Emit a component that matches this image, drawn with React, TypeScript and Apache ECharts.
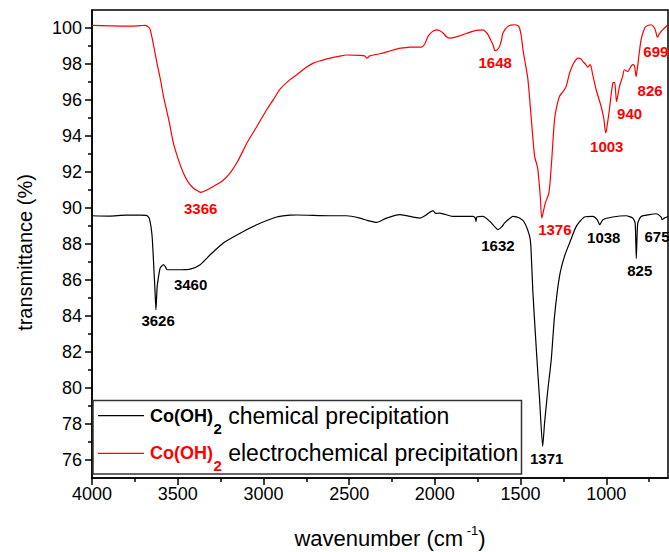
import React, { useEffect, useRef } from "react";
import * as echarts from "echarts";

// ---------- data ----------
const chemWavenumber = [
  4000, 3900, 3800, 3720, 3680, 3665, 3650, 3641, 3632, 3627, 3620, 3610, 3602, 3583, 3570, 3563,
  3554, 3486, 3427, 3369, 3311, 3234, 3136, 3039, 2923, 2845, 2806, 2612, 2515, 2437, 2390, 2340,
  2282, 2204, 2088, 2049, 2011, 1995, 1971, 1894, 1778, 1765, 1760, 1755, 1719, 1680, 1650, 1632,
  1610, 1593, 1560, 1544, 1506, 1476, 1447, 1440, 1428, 1408, 1389, 1371, 1360, 1341, 1321, 1302,
  1273, 1244, 1214, 1175, 1127, 1079, 1053, 1038, 1020, 962, 884, 846, 832, 828, 825, 821, 816,
  797, 748, 709, 680, 675, 660, 640,
];
const chemTransmittance = [
  89.57, 89.55, 89.6, 89.6, 89.58, 89.4, 88.5, 87.0, 85.3, 84.35, 85.6, 86.3, 86.67, 86.85, 86.7, 86.57,
  86.57, 86.57, 86.6, 86.85, 87.4, 88.06, 88.6, 89.07, 89.5, 89.6, 89.61, 89.57, 89.57, 89.44, 89.3, 89.2,
  89.44, 89.63, 89.44, 89.63, 89.85, 89.7, 89.72, 89.53, 89.53, 89.45, 89.25, 89.5, 89.53, 89.26, 88.95, 88.8,
  88.95, 89.17, 89.45, 89.53, 89.44, 89.17, 88.42, 87.9, 85.3, 82.13, 79.35, 76.76, 78.06, 79.9, 81.57, 83.98,
  86.2, 87.31, 88.06, 88.98, 89.5, 89.53, 89.35, 89.07, 89.35, 89.5, 89.57, 89.44, 89.17, 88.2, 87.2, 88.3, 89.17,
  89.53, 89.63, 89.68, 89.5, 89.35, 89.45, 89.53,
];

const electroWavenumber = [
  4000, 3900, 3800, 3720, 3690, 3670, 3660, 3640, 3621, 3600, 3583, 3550, 3525, 3500, 3467, 3440,
  3408, 3380, 3366, 3330, 3292, 3240, 3195, 3150, 3097, 3040, 2981, 2940, 2903, 2845, 2806, 2760,
  2709, 2660, 2612, 2560, 2515, 2437, 2410, 2395, 2380, 2321, 2270, 2224, 2180, 2146, 2078, 2060,
  2040, 2015, 1991, 1970, 1952, 1930, 1913, 1870, 1836, 1797, 1758, 1719, 1700, 1690, 1675, 1661,
  1648, 1635, 1622, 1610, 1603, 1574, 1535, 1515, 1506, 1495, 1486, 1470, 1457, 1437, 1418, 1405,
  1399, 1385, 1376, 1365, 1355, 1335, 1321, 1302, 1290, 1273, 1250, 1234, 1214, 1195, 1180, 1166,
  1150, 1137, 1120, 1108, 1094, 1079, 1059, 1030, 1015, 1003, 990, 982, 962, 952, 945, 940, 930,
  923, 905, 894, 875, 860, 846, 836, 832, 826, 821, 816, 797, 780, 768, 739, 719, 710, 704, 699,
  695, 680, 660, 640,
];
const electroTransmittance = [
  100.15, 100.12, 100.1, 100.13, 100.15, 100.05, 99.9, 99.0, 98.05, 97.1, 96.2, 94.8, 93.6, 92.8, 91.94, 91.45,
  91.1, 90.93, 90.87, 91.0, 91.2, 91.5, 91.94, 92.6, 93.6, 94.5, 95.46, 96.05, 96.6, 97.13, 97.4, 97.75,
  98.05, 98.2, 98.33, 98.42, 98.5, 98.48, 98.45, 98.33, 98.45, 98.57, 98.7, 98.83, 98.9, 98.94, 98.94, 99.1,
  99.53, 99.8, 99.9, 99.85, 99.72, 99.5, 99.44, 99.52, 99.63, 99.76, 99.87, 99.9, 99.75, 99.63, 99.35, 99.07,
  98.74, 98.8, 98.98, 99.4, 99.72, 100.09, 100.18, 100.12, 100.0, 99.5, 98.8, 97.9, 97.13, 94.9, 92.87, 92.4,
  92.13, 90.64, 89.44, 89.9, 90.3, 90.83, 92.31, 94.9, 95.6, 96.2, 96.5, 96.76, 97.5, 97.96, 98.2, 98.33,
  98.3, 98.15, 97.98, 97.83, 97.96, 97.4, 96.57, 95.64, 95.0, 94.17, 94.9, 95.46, 96.94, 96.98, 96.4, 95.92, 96.4,
  96.76, 97.3, 97.68, 97.59, 97.8, 97.96, 97.9, 97.68, 97.31, 97.6, 97.96, 99.35, 99.9, 100.09, 100.18, 100.0, 99.75, 99.53, 99.5,
  99.6, 99.81, 100.0, 100.18,
];

// labelled absorption peaks (wavenumber, transmittance at the peak)
const chemPeakWavenumber = [3626, 3460, 1632, 1371, 1038, 825, 675];
const chemPeakTransmittance = [84.35, 86.57, 88.8, 76.76, 89.07, 87.2, 89.35];
const electroPeakWavenumber = [3366, 1648, 1376, 1003, 940, 826, 699];
const electroPeakTransmittance = [90.87, 98.74, 89.44, 94.17, 95.92, 97.31, 99.5];

// tick values
const xTickValues = [4000, 3500, 3000, 2500, 2000, 1500, 1000];
const xMinorTickValues = [3750, 3250, 2750, 2250, 1750, 1250, 750];
const yTickValues = [76, 78, 80, 82, 84, 86, 88, 90, 92, 94, 96, 98, 100];
const yMinorTickValues = [77, 79, 81, 83, 85, 87, 89, 91, 93, 95, 97, 99];

// legend texts: formula, subscript, description
const legendFormula = "Co(OH)";
const legendSubscript = "2";
const chemDescription = " chemical precipitation";
const electroDescription = " electrochemical precipitation";
const chemName = legendFormula + legendSubscript + chemDescription;
const electroName = legendFormula + legendSubscript + electroDescription;

// ---------- layout (pixel offsets of peak labels from their peaks) ----------
const chemLabelOffsets = [
  [2, 11], [6, 15], [0, 16], [4, 12], [4, 12.5], [3.5, 12.3], [-5, 17],
];
const electroLabelOffsets = [
  [0, 16], [0, 12], [13, 11], [1, 14], [13, 12], [14, 14], [-2, 14],
];

const FONT = "'Liberation Sans', Arial, Helvetica, sans-serif";
const RED = "#ff0000";

let measureCtx: CanvasRenderingContext2D | null = null;
function textWidth(text: string, size: number, bold = false): number {
  if (!measureCtx) measureCtx = document.createElement("canvas").getContext("2d");
  if (!measureCtx) return text.length * size * 0.55;
  measureCtx.font = `${bold ? "bold " : ""}${size}px ${FONT}`;
  return measureCtx.measureText(text).width;
}

function peakMarks(ws: number[], vs: number[], offsets: number[][], color: string) {
  return {
    symbol: "circle",
    symbolSize: 0,
    silent: true,
    itemStyle: { color: "rgba(0,0,0,0)" },
    label: {
      show: true,
      position: "inside",
      formatter: "{b}",
      color,
      fontWeight: "bold",
      fontSize: 15,
      fontFamily: FONT,
    },
    data: ws.map((w, i) => ({
      name: String(w),
      coord: [w, vs[i]],
      label: { offset: offsets[i] },
    })),
  };
}

function txt(text: string, x: number, y: number, size: number, fill: string, bold = false) {
  return {
    type: "text",
    x,
    y,
    z: 11,
    silent: true,
    style: {
      text,
      fontSize: size,
      fontWeight: bold ? "bold" : "normal",
      fontFamily: FONT,
      fill,
      align: "left",
      verticalAlign: "middle",
    },
  };
}

function legendRow(y: number, color: string, description: string) {
  const x0 = 150;
  const wFormula = textWidth(legendFormula, 18, true);
  const wSub = textWidth(legendSubscript, 15, true);
  return [
    {
      type: "line",
      z: 11,
      silent: true,
      shape: { x1: 98, y1: y, x2: 144, y2: y },
      style: { stroke: color, lineWidth: 1.2 },
    },
    txt(legendFormula, x0, y, 18, color, true),
    txt(legendSubscript, x0 + wFormula + 0.5, y + 12.5, 15, color, true),
    txt(description, x0 + wFormula + 0.5 + wSub, y, 23, "#000"),
  ];
}

export default function App() {
  const ref = useRef<HTMLDivElement>(null);

  useEffect(() => {
    if (!ref.current) return;
    const chart = echarts.init(ref.current, undefined, { renderer: "svg" });
    const axisLineStyle = { color: "#000", width: 1.5 };
    const plainNumber = (v: number) => String(v);

    const option: any = {
      animation: false,
      backgroundColor: "#fff",
      textStyle: { fontFamily: FONT },
      grid: {
        left: 92,
        right: 1,
        top: 10,
        bottom: 74,
        show: true,
        borderColor: "#000",
        borderWidth: 1.5,
        outerBoundsMode: "none",
      },
      xAxis: [
        {
          type: "value",
          min: 640,
          max: 4000,
          inverse: true,
          position: "bottom",
          axisLine: { show: true, onZero: false, lineStyle: axisLineStyle },
          axisTick: { show: true, length: 7, lineStyle: axisLineStyle, customValues: xTickValues },
          axisLabel: {
            customValues: xTickValues,
            formatter: plainNumber,
            fontSize: 18,
            color: "#000",
            margin: 7,
            fontFamily: FONT,
          },
          splitLine: { show: false },
        },
        {
          type: "value",
          min: 640,
          max: 4000,
          inverse: true,
          position: "bottom",
          axisLine: { show: false, onZero: false },
          axisTick: { show: true, length: 4, lineStyle: axisLineStyle, customValues: xMinorTickValues },
          axisLabel: { show: false },
          splitLine: { show: false },
        },
      ],
      yAxis: [
        {
          type: "value",
          min: 75,
          max: 101,
          position: "left",
          axisLine: { show: true, onZero: false, lineStyle: axisLineStyle },
          axisTick: { show: true, length: 7, lineStyle: axisLineStyle, customValues: yTickValues },
          axisLabel: {
            customValues: yTickValues,
            formatter: plainNumber,
            fontSize: 18,
            color: "#000",
            margin: 10,
            fontFamily: FONT,
          },
          splitLine: { show: false },
        },
        {
          type: "value",
          min: 75,
          max: 101,
          position: "left",
          axisLine: { show: false, onZero: false },
          axisTick: { show: true, length: 4, lineStyle: axisLineStyle, customValues: yMinorTickValues },
          axisLabel: { show: false },
          splitLine: { show: false },
        },
      ],
      graphic: [
        // y-axis title
        {
          type: "text",
          x: 25,
          y: 252.5,
          rotation: Math.PI / 2,
          silent: true,
          style: {
            text: "transmittance (%)",
            fontSize: 20,
            fontFamily: FONT,
            fill: "#000",
            align: "center",
            verticalAlign: "middle",
          },
        },
        // x-axis title with superscript
        {
          type: "text",
          x: 390,
          y: 538,
          silent: true,
          style: {
            text: "{a|wavenumber (cm}{sup| -1}{a|)}",
            fill: "#000",
            align: "center",
            verticalAlign: "middle",
            fontFamily: FONT,
            rich: {
              a: { fontSize: 22, lineHeight: 28, verticalAlign: "middle", fontFamily: FONT, fill: "#000" },
              sup: { fontSize: 13, lineHeight: 12, verticalAlign: "top", fontFamily: FONT, fill: "#000" },
            },
          },
        },
        // legend box
        {
          type: "rect",
          silent: true,
          z: 10,
          shape: { x: 93, y: 400.5, width: 428.5, height: 73.5 },
          style: { fill: "#fff", stroke: "#333", lineWidth: 1.5 },
        },
        ...legendRow(415.7, "#000", chemDescription),
        ...legendRow(453.3, RED, electroDescription),
      ],
      series: [
        {
          name: chemName,
          type: "line",
          xAxisIndex: 0,
          yAxisIndex: 0,
          symbol: "none",
          smooth: 0.2,
          lineStyle: { color: "#000", width: 1.2 },
          itemStyle: { color: "#000" },
          data: chemWavenumber.map((w, i) => [w, chemTransmittance[i]]),
          markPoint: peakMarks(chemPeakWavenumber, chemPeakTransmittance, chemLabelOffsets, "#000"),
        },
        {
          name: electroName,
          type: "line",
          xAxisIndex: 0,
          yAxisIndex: 0,
          symbol: "none",
          smooth: 0.3,
          lineStyle: { color: RED, width: 1.2 },
          itemStyle: { color: RED },
          data: electroWavenumber.map((w, i) => [w, electroTransmittance[i]]),
          markPoint: peakMarks(electroPeakWavenumber, electroPeakTransmittance, electroLabelOffsets, RED),
        },
      ],
    };
    chart.setOption(option);
    return () => chart.dispose();
  }, []);

  return (
    <div
      ref={ref}
      style={{ position: "fixed", left: 0, top: 0, width: 669, height: 552, background: "#fff" }}
    />
  );
}
